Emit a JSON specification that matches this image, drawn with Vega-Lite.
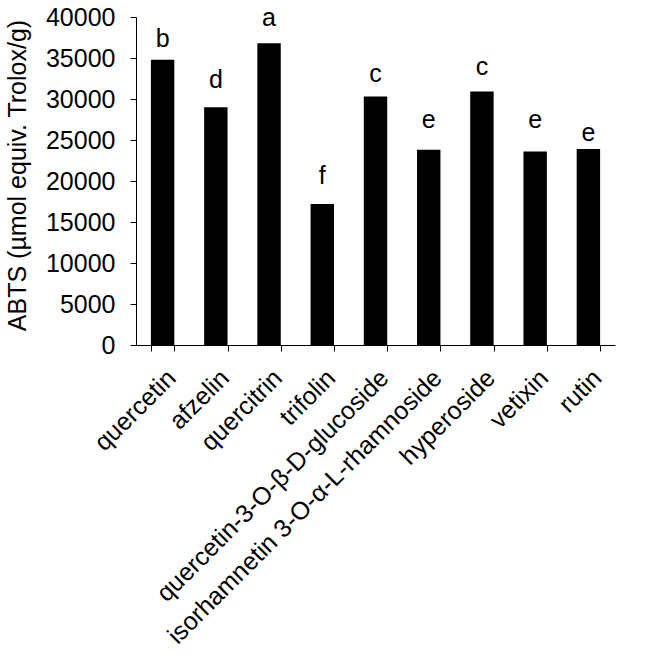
{
  "$schema": "https://vega.github.io/schema/vega-lite/v6.json",
  "width": 479,
  "height": 328,
  "autosize": "none",
  "padding": {"left": 136, "top": 17, "right": 33, "bottom": 312},
  "background": "white",
  "data": {
    "values": [
      {"compound": "quercetin", "abts": 34800, "upper": 35600, "letter": "b"},
      {"compound": "afzelin", "abts": 29000, "upper": 30600, "letter": "d"},
      {"compound": "quercitrin", "abts": 36800, "upper": 38200, "letter": "a"},
      {"compound": "trifolin", "abts": 17200, "upper": 18900, "letter": "f"},
      {"compound": "quercetin-3-O-β-D-glucoside", "abts": 30300, "upper": 31350, "letter": "c"},
      {"compound": "isorhamnetin 3-O-α-L-rhamnoside", "abts": 23800, "upper": 25750, "letter": "e"},
      {"compound": "hyperoside", "abts": 30900, "upper": 32200, "letter": "c"},
      {"compound": "vetixin", "abts": 23600, "upper": 25750, "letter": "e"},
      {"compound": "rutin", "abts": 23900, "upper": 24150, "letter": "e"}
    ]
  },
  "config": {
    "font": "Liberation Sans",
    "view": {"stroke": null},
    "axis": {"grid": false, "domainColor": "#000", "tickColor": "#000", "labelColor": "#000", "titleColor": "#000", "labelFont": "Liberation Sans", "titleFont": "Liberation Sans", "labelFontSize": 25, "titleFontSize": 25, "titleFontWeight": "normal"}
  },
  "encoding": {
    "x": {
      "field": "compound",
      "type": "nominal",
      "sort": null,
      "scale": {"paddingInner": 0.56, "paddingOuter": 0.28},
      "axis": {"title": null, "labelAngle": -45, "tickBand": "extent", "tickSize": 6, "labelPadding": 14, "labelLimit": 0}
    }
  },
  "layer": [
    {
      "mark": {"type": "bar", "color": "#000"},
      "encoding": {
        "y": {
          "field": "abts",
          "type": "quantitative",
          "scale": {"domain": [0, 40000], "nice": false},
          "axis": {"title": "ABTS (µmol equiv. Trolox/g)", "values": [0, 5000, 10000, 15000, 20000, 25000, 30000, 35000, 40000], "format": "d", "tickSize": 6, "labelPadding": 15, "titleAngle": -90, "titleAlign": "center", "titleBaseline": "alphabetic", "titleX": -111, "titleY": 158}
        }
      }
    },
    {
      "mark": {"type": "text", "fontSize": 25, "baseline": "alphabetic", "dy": -6, "color": "#000"},
      "encoding": {
        "y": {"field": "upper", "type": "quantitative"},
        "text": {"field": "letter"}
      }
    }
  ]
}
